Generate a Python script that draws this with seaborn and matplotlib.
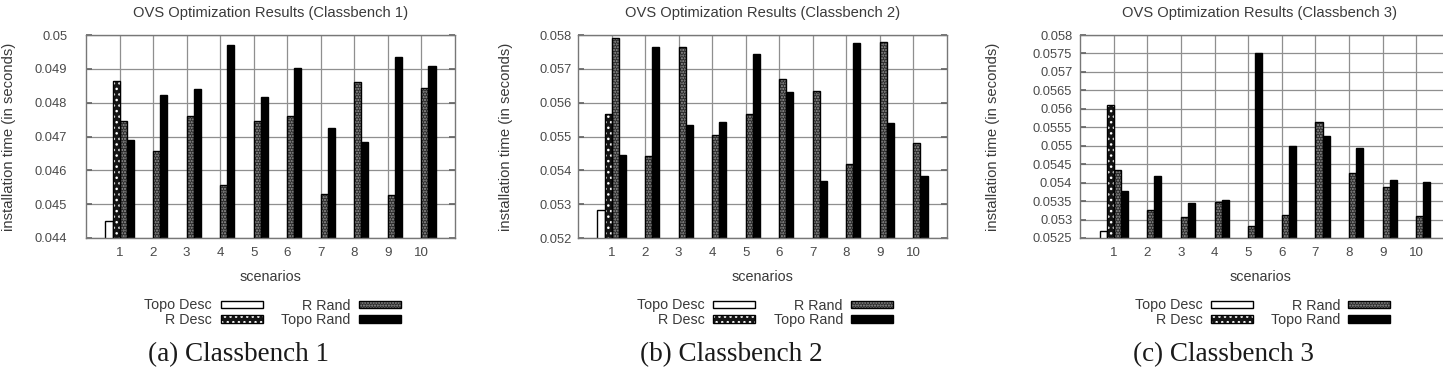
import numpy as np
import pandas as pd
import matplotlib
matplotlib.use("Agg")
import matplotlib.pyplot as plt
import seaborn as sns
from matplotlib.patches import Rectangle

# ---------------- data ----------------
scenarios = ["1", "2", "3", "4", "5", "6", "7", "8", "9", "10"]
series = ["Topo Desc", "R Desc", "R Rand", "Topo Rand"]

cb1_topo_desc = [0.04451, None, None, None, None, None, None, None, None, None]
cb1_r_desc = [0.04865, None, None, None, None, None, None, None, None, None]
cb1_r_rand = [0.04747, 0.04656, 0.04762, 0.04557, 0.04747, 0.04761, 0.04531, 0.04860, 0.04526, 0.04843]
cb1_topo_rand = [0.04690, 0.04823, 0.04840, 0.04969, 0.04816, 0.04903, 0.04725, 0.04685, 0.04936, 0.04907]

cb2_topo_desc = [0.05284, None, None, None, None, None, None, None, None, None]
cb2_r_desc = [0.05566, None, None, None, None, None, None, None, None, None]
cb2_r_rand = [0.05790, 0.05441, 0.05765, 0.05505, 0.05566, 0.05669, 0.05635, 0.05418, 0.05780, 0.05482]
cb2_topo_rand = [0.05444, 0.05765, 0.05534, 0.05544, 0.05743, 0.05631, 0.05367, 0.05775, 0.05539, 0.05382]

cb3_topo_desc = [0.05270, None, None, None, None, None, None, None, None, None]
cb3_r_desc = [0.05609, None, None, None, None, None, None, None, None, None]
cb3_r_rand = [0.05435, 0.05325, 0.05306, 0.05347, 0.05283, 0.05313, 0.05564, 0.05426, 0.05387, 0.05310]
cb3_topo_rand = [0.05376, 0.05417, 0.05344, 0.05354, 0.05752, 0.05500, 0.05527, 0.05495, 0.05407, 0.05402]

titles = ["OVS Optimization Results (Classbench 1)",
          "OVS Optimization Results (Classbench 2)",
          "OVS Optimization Results (Classbench 3)"]
captions = ["(a) Classbench 1", "(b) Classbench 2", "(c) Classbench 3"]

yticks1 = [0.044, 0.045, 0.046, 0.047, 0.048, 0.049, 0.050]
yticklabels1 = ["0.044", "0.045", "0.046", "0.047", "0.048", "0.049", "0.05"]
yticks2 = [0.052, 0.053, 0.054, 0.055, 0.056, 0.057, 0.058]
yticklabels2 = ["0.052", "0.053", "0.054", "0.055", "0.056", "0.057", "0.058"]
yticks3 = [0.0525, 0.053, 0.0535, 0.054, 0.0545, 0.055, 0.0555, 0.056, 0.0565, 0.057, 0.0575, 0.058]
yticklabels3 = ["0.0525", "0.053", "0.0535", "0.054", "0.0545", "0.055", "0.0555",
                "0.056", "0.0565", "0.057", "0.0575", "0.058"]

ylabel = "installation time (in seconds)"
xlabel = "scenarios"

# ---------------- layout / style ----------------
W, H = 1443, 372
sns.set_theme(style="white")
plt.rcParams["font.family"] = ["Liberation Sans", "DejaVu Sans"]
plt.rcParams["hatch.linewidth"] = 1.0

fig = plt.figure(figsize=(W / 100, H / 100), dpi=100)

def fx(px):
    return px / W

def fy(py):
    return 1 - py / H

panels = [
    dict(td=cb1_topo_desc, rd=cb1_r_desc, rr=cb1_r_rand, tr=cb1_topo_rand,
         left=86, right=455, yt=yticks1, ytl=yticklabels1, ypad=13.5, ylx=9,
         leg=(212, 221, 350, 359), cap=238, cx=270.5),
    dict(td=cb2_topo_desc, rd=cb2_r_desc, rr=cb2_r_rand, tr=cb2_topo_rand,
         left=578, right=947, yt=yticks2, ytl=yticklabels2, ypad=4.5, ylx=506,
         leg=(705, 713, 843, 851), cap=731, cx=762.5),
    dict(td=cb3_topo_desc, rd=cb3_r_desc, rr=cb3_r_rand, tr=cb3_topo_rand,
         left=1080, right=1450, yt=yticks3, ytl=yticklabels3, ypad=5.5, ylx=993,
         leg=(1203, 1211, 1340, 1348), cap=1223, cx=1260),
]
top, bottom = 35, 238
text_col = "#3a3a3a"
tick_col = "#4a4a4a"

styles = {
    "Topo Desc": dict(face="white", hatch=None, hcol=None),
    "R Desc": dict(face="#141414", hatch="...", hcol="white"),
    "R Rand": dict(face="#2b2b2b", hatch="......", hcol="#9a9a9a"),
    "Topo Rand": dict(face="black", hatch=None, hcol=None),
}

BAR_W = 0.84
for i, p in enumerate(panels):
    rows = []
    for name, vals in zip(series, [p["td"], p["rd"], p["rr"], p["tr"]]):
        for s, v in zip(scenarios, vals):
            rows.append({"scenario": s, "series": name,
                         "value": np.nan if v is None else v})
    df = pd.DataFrame(rows)

    ax = fig.add_axes([fx(p["left"]), fy(bottom), fx(p["right"] - p["left"]),
                       (bottom - top) / H])
    sns.barplot(data=df, x="scenario", y="value", hue="series",
                order=scenarios, hue_order=series, width=BAR_W, gap=0,
                errorbar=None, legend=False, ax=ax, saturation=1)

    ax.set_xlim(-1, 10)
    ax.set_ylim(p["yt"][0], p["yt"][-1])

    # style bars according to their dodge slot
    bw = BAR_W / 4
    for patch in list(ax.patches):
        h = patch.get_height()
        if not np.isfinite(h):
            continue
        xc = patch.get_x() + patch.get_width() / 2
        slot = int(round((xc - round(xc)) / bw + 1.5))
        st = styles[series[slot]]
        patch.set_facecolor(st["face"])
        patch.set_zorder(2)
        if st["hatch"]:
            patch.set_hatch(st["hatch"])
            patch.set_edgecolor(st["hcol"])
            patch.set_linewidth(0)
            ax.add_patch(Rectangle((patch.get_x(), patch.get_y()), patch.get_width(), h,
                                   fill=False, edgecolor="black", linewidth=1.0, zorder=3))
        else:
            patch.set_edgecolor("black")
            patch.set_linewidth(1.0)

    ax.set_yticks(p["yt"])
    ax.set_yticklabels(p["ytl"])
    ax.set_xlabel("")
    ax.set_ylabel("")
    ax.set_axisbelow(True)
    ax.grid(True, color="#8f8f8f", linewidth=0.9, linestyle="-")
    ax.tick_params(axis="y", direction="in", length=4, color="#666666", left=True, right=True,
                   labelsize=9.3, labelcolor=tick_col, pad=p["ypad"])
    ax.tick_params(axis="x", direction="in", length=0, labelsize=9.6,
                   labelcolor=tick_col, pad=6.5)
    for sp in ax.spines.values():
        sp.set_color("#777777")
        sp.set_linestyle((0, (2, 1)))
        sp.set_linewidth(1.0)
        sp.set_visible(True)

    cx = p["cx"]
    fig.text(fx(cx), fy(13.5), titles[i], ha="center", va="center",
             fontsize=10.6, color=text_col)
    fig.text(fx(p["ylx"]), fy((top + bottom) / 2), ylabel, rotation=90,
             ha="center", va="center", fontsize=10.7, color=text_col)
    fig.text(fx(cx), fy(281), xlabel, ha="center", va="baseline",
             fontsize=10.4, color=text_col)

    # legend (2 columns, labels right-aligned before the swatch)
    t1, b1, t2, b2 = p["leg"]
    entries = [(series[0], t1, b1, 304.5), (series[1], t1, b1, 319),
               (series[2], t2, b2, 304.5), (series[3], t2, b2, 319)]
    for name, tx, bx, yy in entries:
        fig.text(fx(tx), fy(yy + 5.0), name, ha="right", va="baseline",
                 fontsize=10.3, color=text_col)
        st = styles[name]
        r = Rectangle((fx(bx), fy(yy + 3.8)), fx(42), 7.6 / H, transform=fig.transFigure,
                      facecolor=st["face"], edgecolor=st["hcol"] if st["hatch"] else "black",
                      linewidth=0 if st["hatch"] else 1.0, hatch=st["hatch"])
        fig.add_artist(r)
        if st["hatch"]:
            fig.add_artist(Rectangle((fx(bx), fy(yy + 3.8)), fx(42), 7.6 / H,
                                     transform=fig.transFigure, fill=False,
                                     edgecolor="black", linewidth=1.0))

    fig.text(fx(p["cap"]), fy(361), captions[i], ha="center", va="baseline",
             fontsize=19.5, color="#1a1a1a", family=["Liberation Serif", "DejaVu Serif"])

fig.savefig("out.png", dpi=100)
